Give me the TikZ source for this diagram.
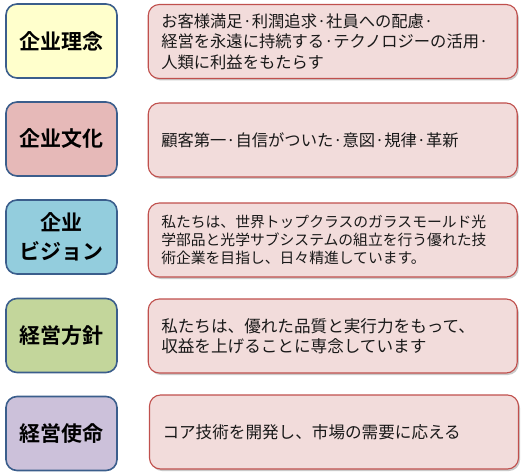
\documentclass[tikz,border=0pt]{standalone}
\usepackage{fontspec}
\setmainfont{Noto Sans CJK JP}[BoldFont={Noto Sans CJK JP Bold}]
\usetikzlibrary{shadows}
\definecolor{lblborder}{HTML}{3B5E8C}
\definecolor{txtborder}{HTML}{C0504D}
\definecolor{txtfill}{HTML}{F2DCDB}
\definecolor{c1}{HTML}{FFFFCC}
\definecolor{c2}{HTML}{E6B9B8}
\definecolor{c3}{HTML}{93CDDD}
\definecolor{c4}{HTML}{C3D69B}
\definecolor{c5}{HTML}{CCC1DA}
\tikzset{
  label box/.style={draw=lblborder, line width=1.6pt, rounded corners=11pt,
    minimum width=111pt, minimum height=74pt, inner sep=0pt, align=center,
    font=\fontsize{21}{29}\selectfont\bfseries, text=black},
  text box/.style={draw=txtborder, line width=1.1pt, fill=txtfill, rounded corners=11pt,
    text width=343pt, inner xsep=13pt, inner ysep=0pt, minimum height=74pt, align=left,
    text=black!90,
    drop shadow={shadow xshift=1.5pt, shadow yshift=-2pt, opacity=0.35, fill=black!60}}
}
\begin{document}
\begin{tikzpicture}[x=1pt,y=-1pt]
\useasboundingbox (0,0) rectangle (525,476);
% row 1
\node[label box, fill=c1] (l1) at (61.5,41) {企业理念};
\node[text box, font=\fontsize{16.3}{20.5}\selectfont] (t1) at (332.75,41.5)
  {お客様満足·利潤追求·社員への配慮·\\経営を永遠に持続する·テクノロジーの活用·\\人類に利益をもたらす};
% row 2
\node[label box, fill=c2] (l2) at (61.5,139) {企业文化};
\node[text box, font=\fontsize{16.3}{20.5}\selectfont] (t2) at (332.75,140)
  {顧客第一·自信がついた·意図·規律·革新};
% row 3
\node[label box, fill=c3] (l3) at (61.5,237) {企业\\ビジョン};
\node[text box, font=\fontsize{14.8}{18.3}\selectfont] (t3) at (332.75,240)
  {私たちは、世界トップクラスのガラスモールド光\\学部品と光学サブシステムの組立を行う優れた技\\術企業を目指し、日々精進しています。};
% row 4
\node[label box, fill=c4] (l4) at (61.5,335.5) {経営方針};
\node[text box, font=\fontsize{16.6}{20}\selectfont] (t4) at (332.75,336)
  {私たちは、優れた品質と実行力をもって、\\収益を上げることに専念しています};
% row 5
\node[label box, fill=c5] (l5) at (61.5,433.5) {経営使命};
\node[text box, font=\fontsize{16.6}{20}\selectfont] (t5) at (334,432)
  {コア技術を開発し、市場の需要に応える};
\end{tikzpicture}
\end{document}
